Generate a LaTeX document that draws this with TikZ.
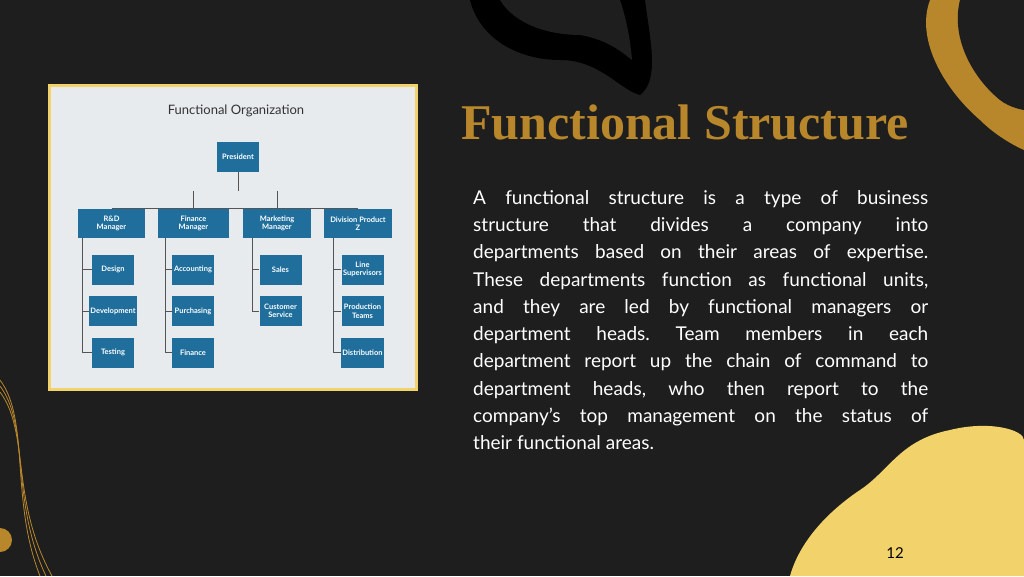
\documentclass[tikz,border=0pt]{standalone}
\usepackage{fontspec}
\setmainfont{Lato}
\newfontfamily\titlefont{Liberation Serif}
\usetikzlibrary{positioning}
\frenchspacing
\definecolor{slidebg}{HTML}{1E1E1E}
\definecolor{gold}{HTML}{B8862B}
\definecolor{goldlight}{HTML}{F2D26A}
\definecolor{boxblue}{HTML}{1F6E9C}
\definecolor{panel}{HTML}{E8EBEE}
\definecolor{linegray}{HTML}{555555}

\begin{document}
\begin{tikzpicture}[
  x=1pt, y=-1pt,
  orgbox/.style={fill=boxblue, text=white, font=\fontsize{7.5}{8.5}\selectfont\bfseries, align=center, inner sep=1pt},
  link/.style={draw=linegray, line width=0.9pt}
]
\fill[slidebg] (0,0) rectangle (1024,576);
\useasboundingbox (0,0) rectangle (1024,576);

% decorations
\fill[black] (470,0) .. controls (480,40) and (520,60) .. (560,60)
  .. controls (600,60) and (620,90) .. (640,95) .. controls (660,80) and (650,40) .. (645,0) -- cycle;
\fill[slidebg] (500,0) .. controls (515,25) and (550,35) .. (580,35)
  .. controls (610,40) and (625,55) .. (632,60) .. controls (630,35) and (625,15) .. (620,0) -- cycle;
\fill[gold] (930,0) .. controls (915,40) and (945,90) .. (980,120) .. controls (1000,140) and (1024,150) .. (1024,150)
  -- (1024,0) -- cycle;
\fill[slidebg] (960,0) .. controls (950,40) and (975,80) .. (1000,100) .. controls (1010,108) and (1024,110) .. (1024,110)
  -- (1024,0) -- cycle;
\fill[goldlight] (1024,576) -- (790,576) .. controls (800,540) and (830,510) .. (860,490)
  .. controls (890,470) and (900,440) .. (950,430) .. controls (990,420) and (1024,430) .. (1024,440) -- cycle;
\foreach \r in {0,6,12}
  \draw[gold, line width=0.8pt] (0,380+\r) .. controls (30,420+\r) and (10,500) .. (40+\r,576);
\fill[gold] (0,540) circle (12);

% chart panel
\fill[panel, draw=goldlight, line width=3pt] (49,85) rectangle (416,389);
\node[font=\fontsize{13}{15}\selectfont, text=black!80] (charttitle) at (236,111) {Functional Organization};

\node[orgbox, minimum width=42, minimum height=30] (pres) at (238,157) {President};
\foreach \nm/\cx/\w/\txt in {rd/111.5/67/R\&D\\Manager, fin/193.5/71/Finance\\Manager,
  mkt/277/68/Marketing\\Manager, div/358/68/Division Product\\Z}
  \node[orgbox, minimum width=\w, minimum height=29] (\nm) at (\cx,223.5) {\txt};

\draw[link] (pres.south) -- (238,191);
\draw[link] (rd.north) |- (div.north);
\foreach \nm in {fin,mkt} \draw[link] (\nm.north) -- (\nm.north |- 0,191);

% children
\foreach \grp/\lx/\cx/\items in {rd/82/113/{Design,Development,Testing},
  fin/165/193/{Accounting,Purchasing,Finance},
  mkt/252/280.5/{Sales,Customer\\Service},
  div/333/362.5/{Line\\Supervisors,Production\\Teams,Distribution}}{
  \foreach \t [count=\i] in \items {
    \node[orgbox, minimum width=42, minimum height=30] (\grp\i) at (\cx,228+41.5*\i) {\t};
    \draw[link] (\lx,238) |- (\grp\i.west);
  }
}

% right text
\node[font=\titlefont\fontsize{50}{54}\selectfont\bfseries, text=gold] (title) at (685,122) {Functional Structure};
\node[text=white, text width=455, align=justify, anchor=north west,
  font=\fontsize{19}{27.3}\selectfont, inner sep=0] (body) at (473,190) {%
A functional structure is a type of business\linebreak
structure that divides a company into\linebreak
departments based on their areas of expertise.\linebreak
These departments function as functional units,\linebreak
and they are led by functional managers or\linebreak
department heads. Team members in each\linebreak
department report up the chain of command to\linebreak
department heads, who then report to the\linebreak
company's top management on the status of\linebreak
their functional areas.};
\node[font=\fontsize{15}{18}\selectfont, text=black] (pagenum) at (895,553) {12};
\end{tikzpicture}
\end{document}
